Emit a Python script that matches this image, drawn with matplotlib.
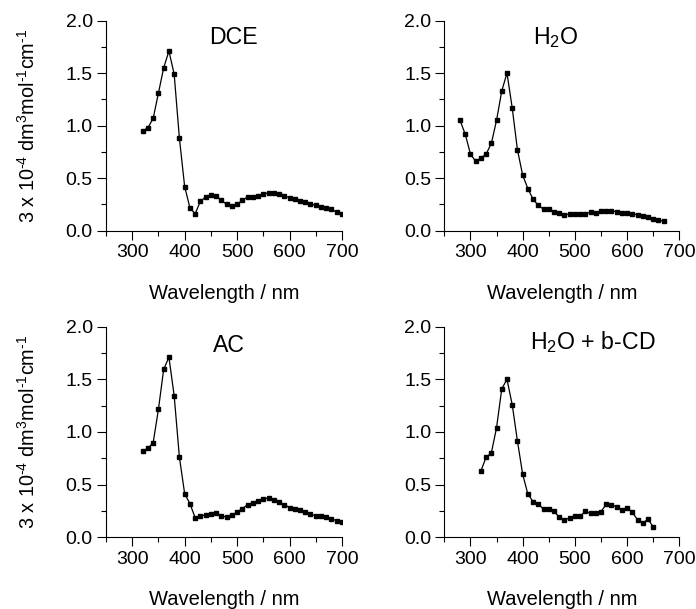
import numpy as np
import matplotlib.pyplot as plt
from matplotlib.ticker import MultipleLocator

plt.rcParams['font.family'] = ['Liberation Sans', 'DejaVu Sans']
plt.rcParams['mathtext.fontset'] = 'custom'
plt.rcParams['mathtext.rm'] = 'Liberation Sans'

# wavelengths (nm)
wl_dce = np.arange(320, 701, 10)
wl_h2o = np.arange(280, 671, 10)
wl_ac = np.arange(320, 701, 10)
wl_cd = np.arange(320, 651, 10)

abs_dce = [0.95, 0.98, 1.07, 1.31, 1.55, 1.71, 1.49, 0.88, 0.42, 0.22,
           0.16, 0.28, 0.32, 0.34, 0.33, 0.29, 0.25, 0.235, 0.25, 0.29,
           0.32, 0.325, 0.33, 0.35, 0.36, 0.355, 0.345, 0.33, 0.315, 0.30,
           0.285, 0.27, 0.255, 0.24, 0.225, 0.215, 0.205, 0.175, 0.155]
abs_h2o = [1.05, 0.92, 0.73, 0.66, 0.69, 0.73, 0.83, 1.05, 1.33, 1.50,
           1.17, 0.77, 0.53, 0.40, 0.30, 0.24, 0.205, 0.205, 0.18, 0.165,
           0.15, 0.16, 0.16, 0.16, 0.16, 0.175, 0.17, 0.185, 0.19, 0.19,
           0.18, 0.168, 0.165, 0.16, 0.152, 0.143, 0.13, 0.114, 0.105, 0.089]
abs_ac = [0.82, 0.845, 0.90, 1.215, 1.595, 1.71, 1.345, 0.76, 0.415, 0.32,
          0.187, 0.2, 0.215, 0.225, 0.234, 0.203, 0.193, 0.209, 0.241, 0.272,
          0.31, 0.33, 0.348, 0.367, 0.373, 0.358, 0.332, 0.31, 0.282, 0.266,
          0.259, 0.241, 0.218, 0.206, 0.206, 0.19, 0.174, 0.158, 0.142]
abs_cd = [0.63, 0.76, 0.80, 1.04, 1.41, 1.50, 1.26, 0.915, 0.60, 0.41,
          0.34, 0.32, 0.265, 0.265, 0.25, 0.19, 0.165, 0.184, 0.199, 0.199,
          0.247, 0.228, 0.228, 0.244, 0.313, 0.31, 0.29, 0.256, 0.282, 0.237,
          0.168, 0.136, 0.171, 0.10]

panels = [
    (wl_dce, abs_dce, "DCE", [0.1523, 0.6212, 0.339, 0.345], True, 0.436, 0.889),
    (wl_h2o, abs_h2o, "H$_\\mathregular{2}$O", [0.6384, 0.6212, 0.3376, 0.345], False, 0.376, 0.889),
    (wl_ac, abs_ac, "AC", [0.1523, 0.1177, 0.339, 0.3459], True, 0.452, 0.878),
    (wl_cd, abs_cd, "H$_\\mathregular{2}$O + b-CD", [0.6384, 0.1177, 0.3376, 0.3459], False, 0.365, 0.893),
]

ylab = ("3 x 10$^{\\mathregular{\u20104}}$ dm$^{\\mathregular{3}}$"
        "mol$^{\\mathregular{\u20101}}$cm$^{\\mathregular{\u20101}}$")

fig = plt.figure(figsize=(6.96, 6.09), dpi=100)
for x, y, name, rect, left, tx, ty in panels:
    ax = fig.add_axes(rect)
    ax.plot(x, y, color='black', lw=0.9, marker='s', markersize=3.3)
    ax.set_xlim(250, 700)
    ax.set_ylim(0, 2.0)
    ax.xaxis.set_minor_locator(MultipleLocator(50))
    ax.yaxis.set_minor_locator(MultipleLocator(0.25))
    ax.set_xticks([300, 400, 500, 600, 700])
    ax.set_yticks([0, 0.5, 1.0, 1.5, 2.0])
    ax.set_yticklabels(["0.0", "0.5", "1.0", "1.5", "2.0"])
    for s in ['top', 'right']:
        ax.spines[s].set_visible(False)
    ax.tick_params(which='major', direction='out', length=6.5, width=0.8,
                   labelsize=14, pad=3)
    ax.tick_params(which='minor', direction='out', length=3.6, width=0.8)
    ax.set_xlabel("Wavelength / nm", fontsize=14.5, labelpad=16.5)
    if left:
        ax.set_ylabel(ylab, fontsize=14.3, labelpad=19)
    ax.text(tx, ty, name, transform=ax.transAxes, fontsize=16.7,
            ha='left', va='baseline')

fig.savefig("out.png", dpi=100)
